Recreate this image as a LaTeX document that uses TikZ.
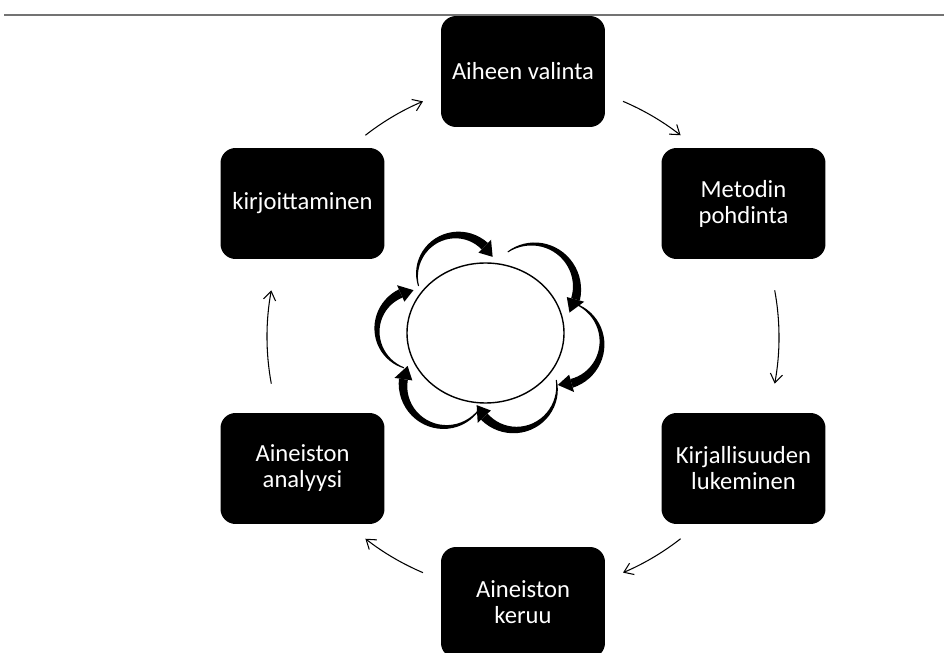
\documentclass[tikz,border=0pt]{standalone}
\usepackage{fontspec}
\setmainfont{Carlito}
\usetikzlibrary{arrows.meta}

\tikzset{
    vaihe/.style={fill=black, text=white, rounded corners=0.3cm, minimum width=3.28cm,
        minimum height=2.22cm, align=center, font=\fontsize{14}{14.8}\selectfont},
    kierto/.style={-{Straight Barb[length=5pt,width=7pt]}, line width=0.6pt},
}

% paksu kaareva nuoli: keskipiste x, y, sade, alkukulma, loppukulma
\newcommand{\nuoli}[5]{%
    \pgfmathsetmacro{\nuolipaa}{#5+19}
    \fill plot[domain=0:1, samples=25]
        ({#1+(#3-0.5-4*\x)*cos(#4+\x*(\nuolipaa-(#4)))}, {#2+(#3-0.5-4*\x)*sin(#4+\x*(\nuolipaa-(#4)))})
        -- plot[domain=1:0, samples=25]
        ({#1+(#3+0.5+4*\x)*cos(#4+\x*(\nuolipaa-(#4)))}, {#2+(#3+0.5+4*\x)*sin(#4+\x*(\nuolipaa-(#4)))})
        -- cycle;
    \fill ({#1+(#3+9)*cos(\nuolipaa)}, {#2+(#3+9)*sin(\nuolipaa)})
        -- ({#1+#3*cos(#5)}, {#2+#3*sin(#5)})
        -- ({#1+(#3-9)*cos(\nuolipaa)}, {#2+(#3-9)*sin(\nuolipaa)}) -- cycle;
}

\begin{document}
\begin{tikzpicture}[x=0.02cm, y=0.02cm]
    \useasboundingbox (0, 0) rectangle (944, 653);

    % ylareunan viiva
    \draw[black!55, line width=1pt] (4, 638) -- (944, 638);

    % vaiheet
    \node[vaihe] (aihe) at (523, 581.5) {Aiheen valinta};
    \node[vaihe] (metodi) at (743.5, 449.5) {Metodin\\pohdinta};
    \node[vaihe] (kirjallisuus) at (743.5, 184.5) {Kirjallisuuden\\lukeminen};
    \node[vaihe] (keruu) at (523, 50.5) {Aineiston\\keruu};
    \node[vaihe] (analyysi) at (302.5, 184.5) {Aineiston\\analyysi};
    \node[vaihe] (kirjoitus) at (302.5, 449.5) {kirjoittaminen};

    % kehan nuolet
    \coordinate (hub) at (523, 316);
    \foreach \a/\b in {128/113, 67/52, 10.5/-10.5, -52/-67, -113/-128, -169.5/-190.5} {
        \draw[kierto] ([shift={(\a:256)}]hub) arc[start angle=\a, end angle=\b, radius=256];
    }

    % keskella ympyra ja sen ymparilla kiertavat nuolet
    \draw[line width=0.8pt, fill=white] (485.5, 320) ellipse[x radius=78.5, y radius=70];
    \nuoli{457}{378}{40}{196}{27}
    \nuoli{533}{365}{44}{125}{-34}
    \nuoli{560}{310}{42}{68}{-93}
    \nuoli{515}{265}{42}{11}{-156}
    \nuoli{445}{268}{42}{-35}{-207}
    \nuoli{417}{323}{40}{251}{95}
\end{tikzpicture}
\end{document}
